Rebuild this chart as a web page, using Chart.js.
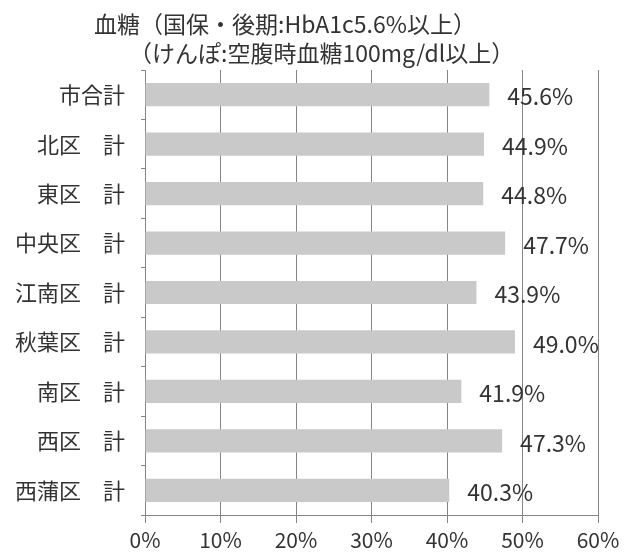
<!doctype html>
<html>
<head>
<meta charset="utf-8">
<title>血糖</title>
<script src="https://cdn.jsdelivr.net/npm/chart.js@4/dist/chart.umd.min.js"></script>
<style>
	body { margin: 0; background: #fff; }
	#wrap { width: 626px; height: 552px; }
</style>
</head>
<body>
<div id="wrap"><canvas id="canvas" width="626" height="552"></canvas></div>
<script>
	var categories = ['市合計', '北区　計', '東区　計', '中央区　計', '江南区　計', '秋葉区　計', '南区　計', '西区　計', '西蒲区　計'];
	var values = [45.6, 44.9, 44.8, 47.7, 43.9, 49.0, 41.9, 47.3, 40.3];
	var titleLines = ['血糖（国保・後期:HbA1c5.6%以上）', '（けんぽ:空腹時血糖100mg/dl以上）'];

	var fontFamily = '"Noto Sans CJK JP", "Noto Sans", sans-serif';
	var textColor = '#333333';
	var gridColor = '#858585';

	// title is drawn by hand so the two lines can sit off-centre like the original
	var titlePlugin = {
		id: 'twoLineTitle',
		afterDraw: function(chart) {
			var ctx = chart.ctx;
			ctx.save();
			ctx.fillStyle = textColor;
			ctx.font = '23px ' + fontFamily;
			ctx.textBaseline = 'middle';
			ctx.textAlign = 'left';
			ctx.fillText(titleLines[0], 94, 24);
			ctx.fillText(titleLines[1], 129, 53);
			ctx.restore();
		}
	};

	// value labels just to the right of each bar end
	var valueLabels = {
		id: 'valueLabels',
		afterDatasetsDraw: function(chart) {
			var ctx = chart.ctx;
			var meta = chart.getDatasetMeta(0);
			ctx.save();
			ctx.fillStyle = textColor;
			ctx.font = '23px ' + fontFamily;
			ctx.textBaseline = 'middle';
			ctx.textAlign = 'left';
			meta.data.forEach(function(bar, i) {
				ctx.fillText(values[i].toFixed(1) + '%', bar.x + 18, bar.y + 2);
			});
			ctx.restore();
		}
	};

	var config = {
		type: 'bar',
		data: {
			labels: categories,
			datasets: [{
				data: values,
				backgroundColor: '#c9c9c9',
				borderWidth: 0,
				barPercentage: 0.47,
				categoryPercentage: 1
			}]
		},
		options: {
			indexAxis: 'y',
			responsive: false,
			animation: false,
			layout: {
				padding: { top: 70, right: 28, left: 0, bottom: 0 }
			},
			plugins: {
				legend: { display: false },
				title: { display: false },
				tooltip: { enabled: false }
			},
			scales: {
				x: {
					min: 0,
					max: 60,
					afterFit: function(scale) { scale.height = 37; },
					ticks: {
						stepSize: 10,
						color: textColor,
						padding: 4,
						font: { family: fontFamily, size: 21 },
						callback: function(v) { return v + '%'; }
					},
					grid: {
						color: gridColor,
						lineWidth: 1,
						tickLength: 8
					},
					border: { display: true, color: gridColor }
				},
				y: {
					afterFit: function(scale) { scale.width = 145; },
					ticks: {
						color: textColor,
						padding: 16,
						font: { family: fontFamily, size: 22 }
					},
					grid: {
						drawOnChartArea: false,
						color: gridColor,
						tickLength: 4
					},
					border: { display: true, color: gridColor }
				}
			}
		},
		plugins: [titlePlugin, valueLabels]
	};

	window.onload = function() {
		var ctx = document.getElementById('canvas').getContext('2d');
		window.myBar = new Chart(ctx, config);
	};
</script>
</body>
</html>
